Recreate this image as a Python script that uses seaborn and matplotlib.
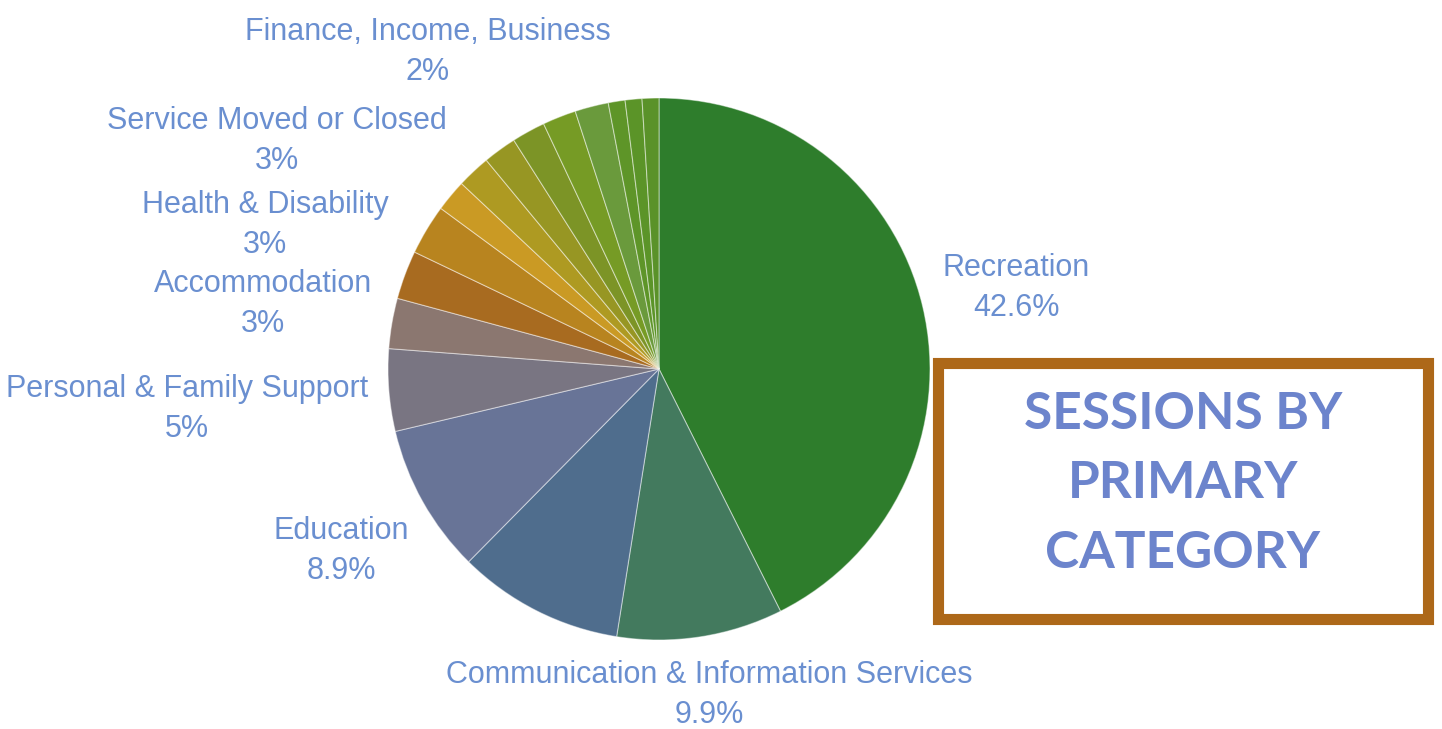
import matplotlib
matplotlib.use("Agg")
import matplotlib.pyplot as plt
import seaborn as sns
from matplotlib.patches import Rectangle

# --- data (share of sessions, %) ---
categories = [
    "Recreation", "Communication & Information Services", "Other 1", "Education",
    "Personal & Family Support", "Accommodation", "Health & Disability",
    "Service Moved or Closed", "Other 2", "Finance, Income, Business",
    "Other 3", "Other 4", "Other 5", "Other 6", "Other 7", "Other 8", "Other 9",
]
shares = [42.6, 9.9, 9.9, 8.9, 4.9, 3.0, 2.9, 3.0, 1.9, 2.0, 2.0, 2.0, 2.0, 2.0, 1.0, 1.0, 1.0]
pct_labels = ["42.6%", "9.9%", "", "8.9%", "5%", "3%", "3%", "3%", "", "2%",
              "", "", "", "", "", "", ""]
slice_colors = [
    "#2E7D2C", "#437A5E", "#4F6D8D", "#687497", "#797582", "#8B7770",
    "#A86B20", "#B8841F", "#CA9A24", "#AE9A22", "#979623", "#7C9426",
    "#769B25", "#6A9A3C", "#5E9528", "#5B9428", "#5A9229",
]

# label block centres (pixels from top-left), only for shown labels
label_xy = {
    "Recreation": (1016, 288),
    "Communication & Information Services": (709, 695),
    "Education": (341, 551),
    "Personal & Family Support": (187, 409),
    "Accommodation": (263, 304),
    "Health & Disability": (265, 225),
    "Service Moved or Closed": (277, 141),
    "Finance, Income, Business": (428, 52),
}

sns.set_theme(style="white")
plt.rcParams["font.family"] = ["Liberation Sans", "DejaVu Sans"]

W, H = 1442, 729
fig = plt.figure(figsize=(W / 100, H / 100), dpi=100)
ax = fig.add_axes([0, 0, 1, 1])

ax.pie(
    shares,
    colors=sns.color_palette(slice_colors),
    startangle=90,
    counterclock=False,
    center=(659, H - 369),
    radius=271,
    wedgeprops=dict(edgecolor=(1, 1, 1, 0.45), linewidth=0.8),
)
ax.set_xlim(0, W)
ax.set_ylim(0, H)
ax.set_aspect("auto")
ax.axis("off")

label_color = "#6A8FD0"
for name, pct in zip(categories, pct_labels):
    if not pct:
        continue
    x, y = label_xy[name]
    ax.text(x, H - y, f"{name}\n{pct}", ha="center", va="center",
            multialignment="center", fontsize=22, color=label_color,
            linespacing=1.42)

# title box
ax.add_patch(Rectangle((937.5, H - 618.5), 490, 256, fill=False,
                       edgecolor="#AD6819", linewidth=8))
ax.text(1183, H - 484, "SESSIONS BY\nPRIMARY\nCATEGORY", ha="center", va="center",
        multialignment="center", fontsize=37, fontweight="bold",
        family=["Lato", "DejaVu Sans"], color="#6C84CC", linespacing=1.58)

fig.savefig("out.png", dpi=100)
